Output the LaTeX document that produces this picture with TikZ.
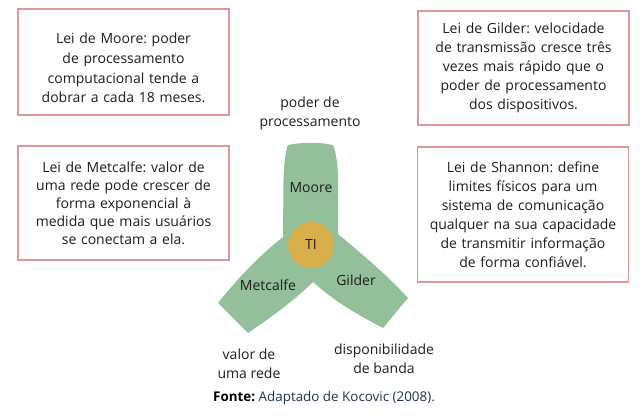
\documentclass[tikz,border=0pt]{standalone}
\usepackage{fontspec}
\setmainfont{Open Sans}
\usetikzlibrary{positioning}
\frenchspacing

\definecolor{boxred}{HTML}{E0959B}
\definecolor{leafgreen}{HTML}{93BF9B}
\definecolor{coregold}{HTML}{D9AF4B}
\definecolor{txtgray}{HTML}{1E1E1E}
\definecolor{srcblue}{HTML}{1F3050}

\tikzset{
  lawbox/.style={draw=boxred, line width=1.2pt, fill=white, align=center,
    inner sep=0pt, minimum width=211pt, text width=205pt, text=txtgray,
    font=\fontsize{14}{19}\selectfont},
  axislabel/.style={align=center, text=txtgray, font=\fontsize{14}{18.5}\selectfont},
  leaflabel/.style={text=txtgray, font=\fontsize{14}{17}\selectfont},
}

\begin{document}
\begin{tikzpicture}[x=1pt, y=-1pt]
  \useasboundingbox (0,0) rectangle (643,419);
  % law boxes
  \node[lawbox, minimum height=106pt, font=\fontsize{14}{19.7}\selectfont] (mooreBox) at (123.5,62)
    {\rule{0pt}{23pt}Lei de Moore: poder\\ de processamento\\ computacional tende a\\ dobrar a cada 18 meses.};
  \node[lawbox, minimum height=114pt] (gilderBox) at (523.5,68)
    {Lei de Gilder: velocidade\\ de transmissão cresce três\\ vezes mais rápido que o\\ poder de processamento\\ dos dispositivos.};
  \node[lawbox, minimum height=114pt, font=\fontsize{14}{18}\selectfont] (metcalfeBox) at (123.5,203)
    {Lei de Metcalfe: valor de\\ uma rede pode crescer de\\ forma exponencial à\\ medida que mais usuários\\ se conectam a ela.};
  \node[lawbox, minimum height=135pt] (shannonBox) at (523,214.5)
    {Lei de Shannon: define\\ limites físicos para um\\ sistema de comunicação\\ qualquer na sua capacidade\\ de transmitir informação\\ de forma confiável.};
  % propeller
  \coordinate (notchL) at (283,237);
  \coordinate (notchR) at (338,234);
  \coordinate (notchB) at (313,282);
  \fill[leafgreen] (notchL) -- (283.5,180) .. controls (284,160) and (286,150) .. (288,145)
    .. controls (303,142) and (318,142) .. (333,145)
    .. controls (336,152) and (338,165) .. (338,180) -- (notchR)
    .. controls (362,254) and (388,276) .. (408,298)
    -- (383,328)
    .. controls (360,316) and (335,302) .. (notchB)
    .. controls (295,300) and (270,318) .. (248,333)
    -- (218,303)
    .. controls (238,278) and (260,255) .. (notchL) -- cycle;
  \node[circle, fill=coregold, minimum size=46pt, inner sep=0pt, leaflabel] (core) at (311,245) {TI};
  \node[leaflabel] (moore) at (311,188) {Moore};
  \node[leaflabel] (metcalfe) at (268,285) {Metcalfe};
  \node[leaflabel] (gilder) at (356,280) {Gilder};
  % axis labels
  \node[axislabel] (power) at (310,113.5) {poder de\\ processamento};
  \node[axislabel] (value) at (249,364) {valor de\\ uma rede};
  \node[axislabel] (band) at (384,359) {disponibilidade\\ de banda};
  % source
  \node[font=\fontsize{13.4}{15}\selectfont, text=srcblue] (source) at (324,398)
    {\textcolor{black}{\textbf{Fonte:}} Adaptado de Kocovic (2008).};
\end{tikzpicture}
\end{document}
